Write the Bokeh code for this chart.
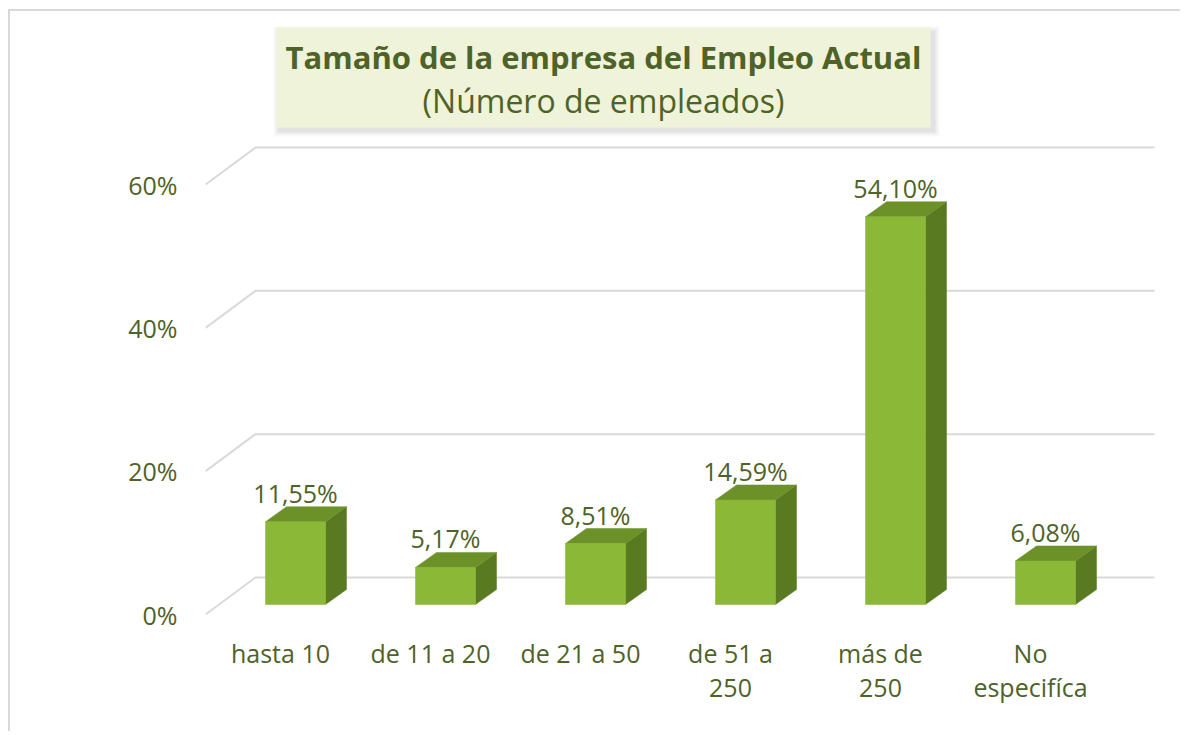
from bokeh.plotting import figure
from bokeh.models import Range1d, FixedTicker
from bokeh.core.properties import value
from bokeh.embed import file_html
from bokeh.resources import INLINE

# ---------------- data ----------------
categories = ["hasta 10", "de 11 a 20", "de 21 a 50", "de 51 a\n250", "más de\n250", "No\nespecifíca"]
percentages = [11.55, 5.17, 8.51, 14.59, 54.10, 6.08]
value_labels = ["11,55%", "5,17%", "8,51%", "14,59%", "54,10%", "6,08%"]
y_ticks = [0, 20, 40, 60]
y_tick_labels = ["0%", "20%", "40%", "60%"]
title_line1 = "Tamaño de la empresa del Empleo Actual"
title_line2 = "(Número de empleados)"

# ---------------- geometry (pixels) ----------------
PAGE_X, PAGE_Y = 10, 11      # page position of the figure content (after css margin + border)
W, H = 1172, 722
PX_X = 150.0                 # pixels per category step
PX_Y = 143.33 / 20.0         # pixels per percent
X0_PAGE = 280.0              # page x of category 0 (front plane)
Y0_PAGE = 614.0              # page y of 0% (front plane)
FRAME_L, FRAME_R, FRAME_T, FRAME_B = 205, PAGE_X + W, 15, 630

def xd(px):
    return (px - X0_PAGE) / PX_X

def yd(py):
    return (Y0_PAGE - py) / PX_Y

def ddx(px):
    return px / PX_X

def ddy(px):
    return px / PX_Y

GREEN_TXT = "#4F6228"
FONT = value("Open Sans")

p = figure(width=W, height=H, output_backend="svg", toolbar_location=None,
           x_range=Range1d(xd(FRAME_L), xd(FRAME_R)),
           y_range=Range1d(yd(FRAME_B), yd(FRAME_T)),
           min_border_left=FRAME_L - PAGE_X, min_border_right=0,
           min_border_top=FRAME_T - PAGE_Y, min_border_bottom=H - (FRAME_B - PAGE_Y))
p.outline_line_color = None
p.background_fill_color = "white"
p.border_fill_color = "white"
p.xgrid.visible = False
p.ygrid.visible = False
p.styles = {"margin-left": "8px", "margin-top": "9px",
            "border-left": "2px solid #D9D9D9", "border-top": "2px solid #D9D9D9"}

# axes
idx = list(range(len(categories)))
p.xaxis.ticker = FixedTicker(ticks=idx)
p.xaxis.major_label_overrides = {i: c for i, c in zip(idx, categories)}
p.yaxis.ticker = FixedTicker(ticks=y_ticks)
p.yaxis.major_label_overrides = {t: l for t, l in zip(y_ticks, y_tick_labels)}
for ax in (p.xaxis, p.yaxis):
    ax.axis_line_color = None
    ax.major_tick_line_color = None
    ax.minor_tick_line_color = None
    ax.major_tick_out = 0
    ax.major_tick_in = 0
    ax.major_label_text_font = "Open Sans"
    ax.major_label_text_font_size = "25px"
    ax.major_label_text_color = GREEN_TXT
p.yaxis.major_label_standoff = 28
p.xaxis.major_label_standoff = 5
p.xaxis.major_label_text_line_height = 1.02

# perspective gridlines (front-left -> back wall -> right)
WALL_DX, WALL_DY = 50, 37
grid_right = xd(1154)
gx = [[xd(FRAME_L), xd(FRAME_L) + ddx(WALL_DX), grid_right] for t in y_ticks]
gy = [[t, t + ddy(WALL_DY), t + ddy(WALL_DY)] for t in y_ticks]
p.multi_line(gx, gy, line_color="#D9D9D9", line_width=2)

# 3D bars
FRONT_DX, FRONT_DY = 15, 10
BAR_W = 60
DEP_DX, DEP_DY = 21, 15
bx = [i + ddx(FRONT_DX) for i in idx]
bbot = ddy(FRONT_DY)
btop = [v + bbot for v in percentages]
half = ddx(BAR_W) / 2
dx, dy = ddx(DEP_DX), ddy(DEP_DY)

side_xs = [[x + half, x + half + dx, x + half + dx, x + half] for x in bx]
side_ys = [[bbot, bbot + dy, t + dy, t] for t in btop]
p.patches(side_xs, side_ys, fill_color="#5A7A22", line_color="#5A7A22", line_width=0.5)

top_xs = [[x - half, x + half, x + half + dx, x - half + dx] for x in bx]
top_ys = [[t, t, t + dy, t + dy] for t in btop]
p.patches(top_xs, top_ys, fill_color="#6C9129", line_color="#6C9129", line_width=0.5)

p.vbar(x=bx, width=ddx(BAR_W), bottom=bbot, top=btop,
       fill_color="#8BB836", line_color="#86B232", line_width=0.5)

# value labels
p.text(x=bx, y=[t + dy + ddy(14) for t in btop], text=value_labels,
       text_font=FONT, text_font_size="25px", text_color=GREEN_TXT,
       text_align="center", text_baseline="alphabetic")

# title box with shadow
BL, BR, BT, BB = 276, 930, 27, 127
for k, a in [(6, 0.05), (4, 0.08), (2, 0.12)]:
    p.quad(left=xd(BL - k + 3), right=xd(BR + k + 3), top=yd(BT - k + 5), bottom=yd(BB + k + 3),
           fill_color="#808080", fill_alpha=a, line_color=None)
p.quad(left=xd(BL), right=xd(BR), top=yd(BT), bottom=yd(BB),
       fill_color="#EEF3D9", line_color=None)
cx = xd((BL + BR) / 2)
p.text(x=[cx], y=[yd(56)], text=[title_line1], text_font=FONT, text_font_size="31px",
       text_font_style="bold", text_color=GREEN_TXT, text_align="center", text_baseline="middle")
p.text(x=[cx], y=[yd(100)], text=[title_line2], text_font=FONT, text_font_size="32px",
       text_color=GREEN_TXT, text_align="center", text_baseline="middle")

open("out.html", "w").write(file_html(p, INLINE))
